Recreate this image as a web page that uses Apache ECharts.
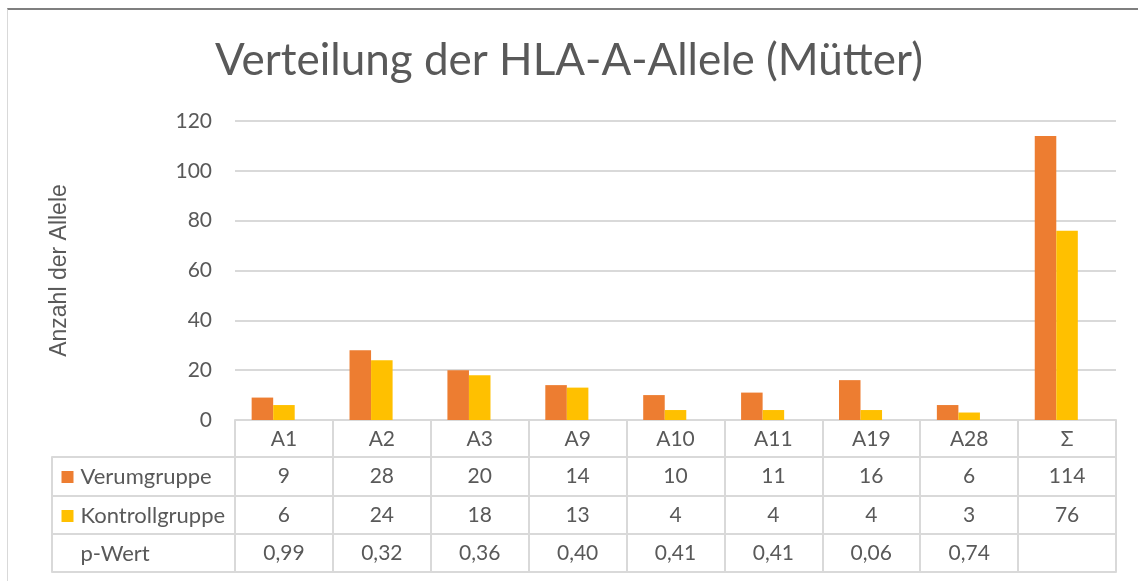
<!DOCTYPE html>
<html>
<head>
<meta charset="utf-8">
<script src="https://cdn.jsdelivr.net/npm/echarts@6/dist/echarts.min.js"></script>
<style>
  html, body { margin: 0; padding: 0; background: #fff; }
  #frame { position: absolute; left: 7px; top: 8px; width: 1131px; height: 573px;
           border-top: 2px solid #7f7f7f; border-left: 1px solid #d9d9d9; box-sizing: border-box; }
  #chart { position: absolute; left: 0; top: 0; width: 1138px; height: 581px; }
</style>
</head>
<body>
<div id="frame"></div>
<div id="chart"></div>
<script>
// Data
var categories = ['A1', 'A2', 'A3', 'A9', 'A10', 'A11', 'A19', 'A28', 'Σ'];
var verum = [9, 28, 20, 14, 10, 11, 16, 6, 114];
var kontroll = [6, 24, 18, 13, 4, 4, 4, 3, 76];
var pWerte = ['0,99', '0,32', '0,36', '0,40', '0,41', '0,41', '0,06', '0,74', ''];
var rowNames = ['Verumgruppe', 'Kontrollgruppe', 'p-Wert'];

var ORANGE = '#ED7D31';
var YELLOW = '#FFC000';
var TEXT = '#595959';
var LINE = '#d9d9d9';
var FONT = 'Lato';

// Offsets of the table row lines below the plot's x axis
var rowOffsets = [37, 76, 114];
var bottomOffset = 152;
var rowHeights = [39, 38, 38];

var myChart = echarts.init(document.getElementById('chart'));

function tableAxis(grid, data, offset, tickLen, label) {
    return {
        type: 'category',
        gridIndex: grid,
        data: data,
        position: 'bottom',
        offset: offset,
        axisLine: { show: true, onZero: false, lineStyle: { color: LINE, width: 2 } },
        axisTick: { show: tickLen > 0, length: tickLen, interval: 0, lineStyle: { color: LINE, width: 2 } },
        axisLabel: label || { show: false },
        splitLine: { show: false }
    };
}

function cellLabel() {
    return { show: true, interval: 0, margin: 9, color: TEXT, fontFamily: FONT, fontSize: 21 };
}

var legendColors = [ORANGE, YELLOW, null];

function rowLabel(i) {
    return {
        show: true,
        interval: 0,
        margin: 9,
        width: 164,
        align: 'center',
        formatter: function (v) {
            return (legendColors[i] ? '{sq' + i + '|}' : '{sp|}') + '{t|' + v + '}';
        },
        rich: {
            sq0: { width: 12, height: 12, backgroundColor: ORANGE, align: 'left' },
            sq1: { width: 12, height: 12, backgroundColor: YELLOW, align: 'left' },
            sp: { width: 12, height: 12, align: 'left' },
            t: { color: TEXT, fontFamily: FONT, fontSize: 22, padding: [0, 0, 0, 7], align: 'left' }
        }
    };
}

var xAxes = [
    // Header row with the category names
    tableAxis(0, categories, 0, 37, cellLabel()),
    tableAxis(0, verum.map(String), rowOffsets[0], rowHeights[0], cellLabel()),
    tableAxis(0, kontroll.map(String), rowOffsets[1], rowHeights[1], cellLabel()),
    tableAxis(0, pWerte, rowOffsets[2], rowHeights[2], cellLabel()),
    tableAxis(0, categories, bottomOffset, 0),
    // Left column of the table with the row names
    tableAxis(1, [rowNames[0]], rowOffsets[0], rowHeights[0], rowLabel(0)),
    tableAxis(1, [rowNames[1]], rowOffsets[1], rowHeights[1], rowLabel(1)),
    tableAxis(1, [rowNames[2]], rowOffsets[2], rowHeights[2], rowLabel(2)),
    tableAxis(1, [''], bottomOffset, 0)
];

var option = {
    animation: false,
    textStyle: { fontFamily: FONT },
    title: {
        text: 'Verteilung der HLA-A-Allele (Mütter)',
        left: 'center',
        top: 34,
        textStyle: { color: TEXT, fontFamily: FONT, fontSize: 44, fontWeight: 'normal' }
    },
    grid: [
        { left: 235, right: 22, top: 121, bottom: 161 },
        { left: 52, width: 183, top: 121, bottom: 161 }
    ],
    xAxis: xAxes,
    yAxis: [
        {
            type: 'value',
            gridIndex: 0,
            min: 0,
            max: 120,
            interval: 20,
            name: 'Anzahl der Allele',
            nameLocation: 'middle',
            nameGap: 164,
            nameTextStyle: { color: TEXT, fontFamily: 'Liberation Sans', fontSize: 23 },
            axisLine: { show: false },
            axisTick: { show: false },
            axisLabel: { color: TEXT, fontFamily: FONT, fontSize: 21, margin: 23 },
            splitLine: { lineStyle: { color: LINE, width: 2 } }
        },
        { type: 'value', gridIndex: 1, show: false }
    ],
    series: [
        {
            name: 'Verumgruppe',
            type: 'bar',
            xAxisIndex: 0,
            yAxisIndex: 0,
            data: verum,
            barGap: '0%',
            barCategoryGap: '34%',
            itemStyle: { color: ORANGE }
        },
        {
            name: 'Kontrollgruppe',
            type: 'bar',
            xAxisIndex: 0,
            yAxisIndex: 0,
            data: kontroll,
            itemStyle: { color: YELLOW }
        },
        {
            // The p-values are a third, unfilled series in the original chart
            name: 'p-Wert',
            type: 'bar',
            xAxisIndex: 0,
            yAxisIndex: 0,
            data: pWerte.map(function (s) { return s === '' ? null : parseFloat(s.replace(',', '.')); }),
            itemStyle: { color: 'rgba(0,0,0,0)' }
        }
    ]
};
myChart.setOption(option);
</script>
</body>
</html>
